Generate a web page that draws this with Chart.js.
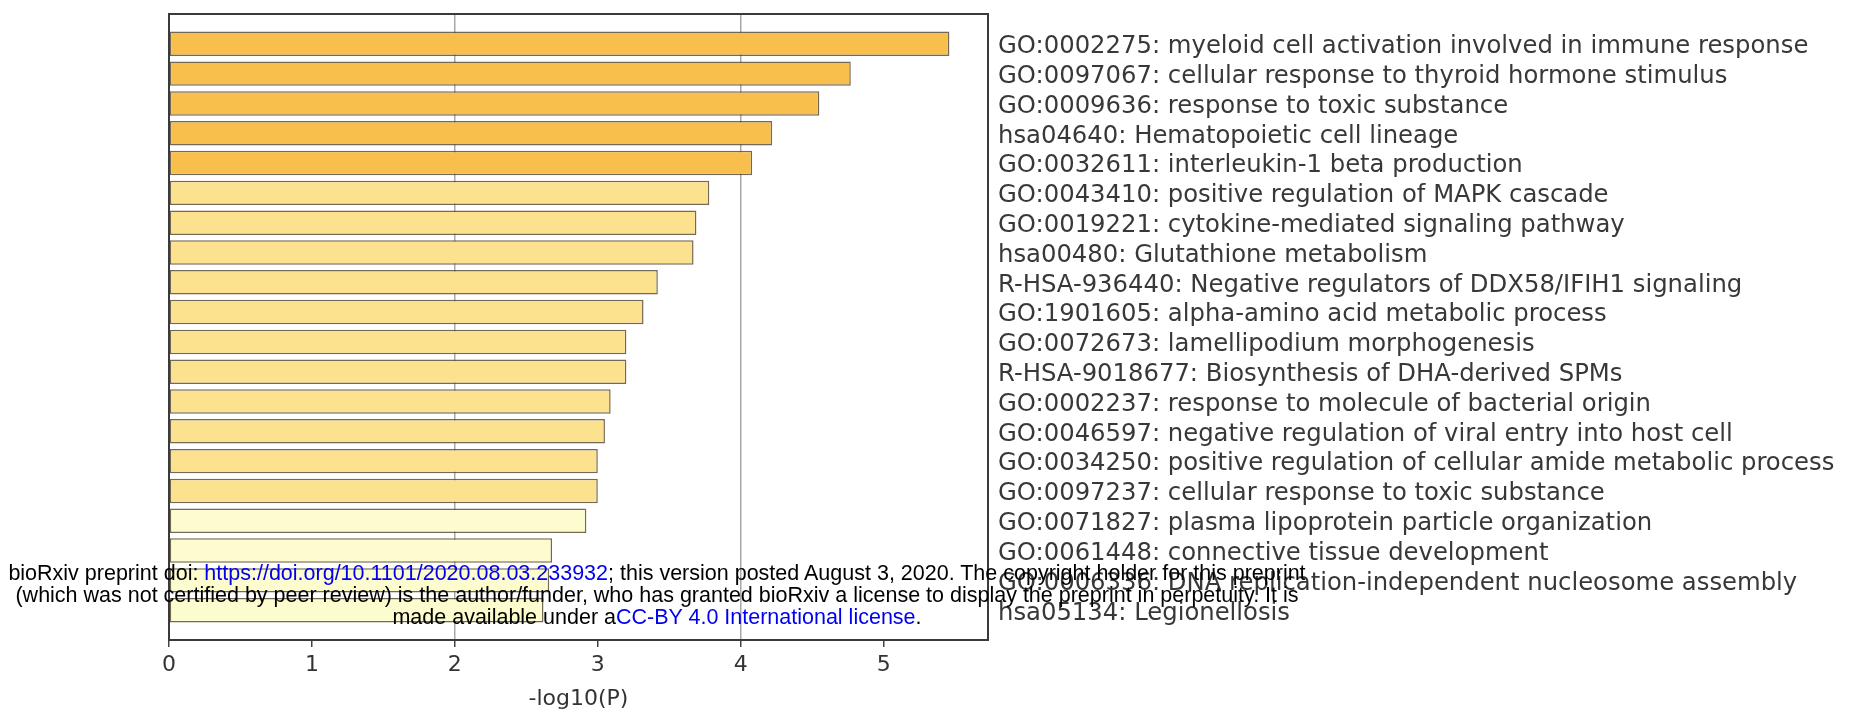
<!DOCTYPE html>
<html lang="en">
<head>
    <meta charset="UTF-8">
    <title>Enrichment bar chart</title>
    <script src="https://cdn.jsdelivr.net/npm/chart.js"></script>
    <style>
        body {
            margin: 0;
            background: #fff;
        }
        #wrap {
            position: relative;
            width: 1855px;
            height: 718px;
        }
        #note {
            position: absolute;
            left: 0;
            top: 562px;
            width: 1314px;
            text-align: center;
            font-family: "Liberation Sans", Arial, sans-serif;
            font-size: 21.5px;
            line-height: 22px;
            color: #000;
            white-space: nowrap;
        }
        #note span {
            color: #0000ee;
        }
    </style>
</head>
<body>
    <div id="wrap">
        <canvas id="myChart" width="1855" height="718"></canvas>
        <div id="note">
            <div>bioRxiv preprint doi: <span>https://doi.org/10.1101/2020.08.03.233932</span>; this version posted August 3, 2020. The copyright holder for this preprint</div>
            <div>(which was not certified by peer review) is the author/funder, who has granted bioRxiv a license to display the preprint in perpetuity. It is</div>
            <div>made available under a<span>CC-BY 4.0 International license</span>.</div>
        </div>
    </div>

    <script>
        // enriched terms, top to bottom
        const terms = [
            "GO:0002275: myeloid cell activation involved in immune response",
            "GO:0097067: cellular response to thyroid hormone stimulus",
            "GO:0009636: response to toxic substance",
            "hsa04640: Hematopoietic cell lineage",
            "GO:0032611: interleukin-1 beta production",
            "GO:0043410: positive regulation of MAPK cascade",
            "GO:0019221: cytokine-mediated signaling pathway",
            "hsa00480: Glutathione metabolism",
            "R-HSA-936440: Negative regulators of DDX58/IFIH1 signaling",
            "GO:1901605: alpha-amino acid metabolic process",
            "GO:0072673: lamellipodium morphogenesis",
            "R-HSA-9018677: Biosynthesis of DHA-derived SPMs",
            "GO:0002237: response to molecule of bacterial origin",
            "GO:0046597: negative regulation of viral entry into host cell",
            "GO:0034250: positive regulation of cellular amide metabolic process",
            "GO:0097237: cellular response to toxic substance",
            "GO:0071827: plasma lipoprotein particle organization",
            "GO:0061448: connective tissue development",
            "GO:0006336: DNA replication-independent nucleosome assembly",
            "hsa05134: Legionellosis"
        ];

        // -log10(P)
        const logP = [5.46, 4.77, 4.55, 4.22, 4.08, 3.78, 3.69, 3.67, 3.42, 3.32,
                      3.20, 3.20, 3.09, 3.05, 3.00, 3.00, 2.92, 2.68, 2.66, 2.62];

        const xTicks = [0, 1, 2, 3, 4, 5];
        const shownGrid = [2, 4];

        function barColor(v) {
            if (v >= 4) return '#f9bf4c';
            if (v >= 2.95) return '#fce28f';
            return '#fdfccf';
        }

        const framePlugin = {
            id: 'frame',
            afterDatasetsDraw(chart) {
                const a = chart.chartArea;
                const ctx = chart.ctx;
                ctx.save();
                ctx.strokeStyle = '#3a3a3a';
                ctx.lineWidth = 2;
                ctx.strokeRect(a.left, a.top, a.right - a.left, a.bottom - a.top);
                ctx.restore();
            }
        };

        Chart.defaults.font.family = '"DejaVu Sans", sans-serif';

        const ctx = document.getElementById('myChart').getContext('2d');
        new Chart(ctx, {
            type: 'bar',
            data: {
                datasets: [{
                    data: logP.map((v, i) => ({ x: v, y: i })),
                    backgroundColor: logP.map(barColor),
                    borderColor: 'rgba(80, 68, 45, 0.8)',
                    borderWidth: 1.5,
                    borderSkipped: false,
                    barPercentage: 0.82,
                    categoryPercentage: 1
                }]
            },
            options: {
                indexAxis: 'y',
                responsive: false,
                animation: false,
                devicePixelRatio: 1,
                layout: { padding: { left: 169, top: 14, right: 0, bottom: 0 } },
                plugins: {
                    legend: { display: false },
                    tooltip: { enabled: false }
                },
                scales: {
                    x: {
                        type: 'linear',
                        min: 0,
                        max: 5.73,
                        afterBuildTicks: s => { s.ticks = xTicks.map(v => ({ value: v })); },
                        afterFit: s => { s.height = 78; s.paddingLeft = 0; s.paddingRight = 0; },
                        border: { display: false },
                        grid: {
                            color: c => shownGrid.includes(c.tick && c.tick.value) ? '#a8a8a8' : 'rgba(0,0,0,0)',
                            lineWidth: 1.5,
                            tickColor: '#444',
                            tickLength: 7
                        },
                        ticks: {
                            font: { size: 22 },
                            color: '#333',
                            padding: 5,
                            maxRotation: 0
                        },
                        title: {
                            display: true,
                            text: '-log10(P)',
                            font: { size: 22 },
                            color: '#333',
                            padding: { top: 0, bottom: 6 }
                        }
                    },
                    y: {
                        type: 'linear',
                        position: 'right',
                        reverse: true,
                        offset: false,
                        min: -1,
                        max: 20,
                        afterBuildTicks: s => { s.ticks = terms.map((t, i) => ({ value: i })); },
                        afterFit: s => { s.width = 867; s.paddingTop = 0; s.paddingBottom = 0; },
                        border: { display: false },
                        grid: { display: false, offset: false },
                        ticks: {
                            autoSkip: false,
                            font: { size: 24.3 },
                            color: '#383838',
                            padding: 2,
                            labelOffset: 3,
                            callback: v => terms[v]
                        }
                    }
                }
            },
            plugins: [framePlugin]
        });
    </script>
</body>
</html>
